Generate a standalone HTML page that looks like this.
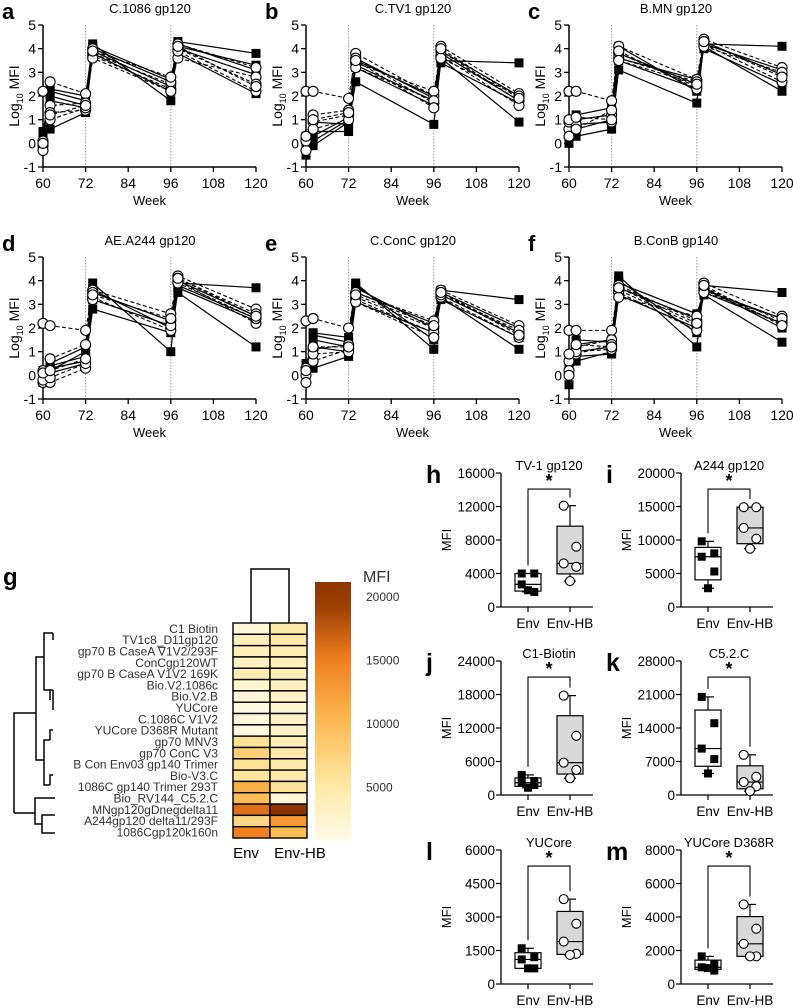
<!DOCTYPE html>
<html><head><meta charset="utf-8"><style>
html,body{margin:0;padding:0;background:#fff;}
svg{display:block;font-family:"Liberation Sans",Arial,sans-serif;}
</style></head><body>
<svg id="fig" width="793" height="1008" viewBox="0 0 793 1008" xmlns="http://www.w3.org/2000/svg"></svg>
<script>
const weeks=[60,62,72,74,96,98,120];
const lineTitles=["C.1086 gp120","C.TV1 gp120","B.MN gp120","AE.A244 gp120","C.ConC gp120","B.ConB gp140"];
const lineLetters=["a","b","c","d","e","f"];
const yTicksLine=[-1,0,1,2,3,4,5];
const xTicksLine=[60,72,84,96,108,120];
// per panel: envSq[animal][timepoint], hbCi[animal][timepoint]
const envA=[[0.4,2.3,2.0,4.2,1.8,4.3,3.8],[0.3,0.6,1.3,3.8,2.2,3.8,2.1],[0.5,2.0,1.6,4.0,2.6,4.1,3.3],[0.4,1.8,1.5,3.9,2.4,4.0,2.9],[0.2,2.2,1.8,4.1,2.7,4.2,3.1]];
const hbA=[[2.2,2.6,2.1,3.7,2.3,4.2,3.2],[0.1,1.6,1.7,3.8,2.5,3.6,2.8],[-0.1,1.3,1.4,4.0,2.6,4.0,2.5],[-0.3,1.0,1.5,3.6,2.2,3.9,2.2],[0.0,1.2,1.6,3.9,2.8,4.1,2.4]];
const envB=[[-0.5,0.9,0.8,2.6,0.8,3.5,3.4],[-0.2,0.5,0.5,3.3,1.8,3.6,0.9],[0.0,0.1,1.0,3.5,2.0,3.9,2.0],[0.3,-0.1,0.9,3.6,1.9,3.8,1.8],[0.1,0.3,1.1,3.2,1.6,3.4,1.7]];
const hbB=[[2.2,2.2,1.9,3.8,2.0,4.1,2.1],[0.2,1.2,1.4,3.6,1.7,3.9,1.8],[-0.3,0.9,1.2,3.4,2.2,3.7,1.6],[0.1,0.6,1.0,3.2,1.8,3.6,2.0],[0.3,1.0,1.3,3.5,1.5,4.0,1.9]];
const envC=[[0.0,0.3,0.6,3.1,1.7,4.2,4.1],[0.2,0.8,0.9,3.5,2.3,4.1,2.2],[0.4,1.0,1.2,3.8,2.5,4.3,2.9],[0.3,0.6,1.0,3.6,2.7,4.0,2.5],[0.1,1.2,1.5,4.1,2.2,4.2,3.1]];
const hbC=[[2.2,2.2,1.8,4.1,2.7,4.4,3.2],[0.6,1.0,1.2,3.8,2.4,4.3,2.9],[0.9,0.8,0.9,3.6,2.6,4.2,2.6],[0.3,0.6,1.4,3.9,2.3,4.1,3.0],[1.0,1.1,1.0,3.5,2.5,4.3,2.8]];
const envD=[[-0.3,0.5,1.2,3.9,1.0,3.9,3.7],[0.0,0.3,0.6,2.8,1.8,3.5,1.2],[0.2,0.1,0.5,3.2,2.1,3.8,2.4],[0.1,0.4,0.8,3.5,2.3,4.0,2.5],[-0.1,0.2,1.0,3.6,2.0,3.7,2.3]];
const hbD=[[2.2,2.1,1.9,3.6,2.6,4.2,2.8],[0.2,0.7,1.3,3.5,2.3,4.1,2.6],[-0.3,-0.3,0.3,3.3,1.9,4.0,2.2],[-0.2,-0.1,0.5,3.2,2.1,3.9,2.4],[0.1,0.2,0.7,3.4,2.4,4.1,2.5]];
const envE=[[0.2,1.8,1.6,3.9,1.1,3.6,3.2],[0.3,0.3,0.8,3.1,1.8,3.3,1.1],[0.1,1.5,1.2,3.5,2.2,3.5,2.0],[0.5,1.2,1.0,3.7,2.0,3.4,1.8],[0.0,1.7,1.4,3.8,1.5,3.2,1.6]];
const hbE=[[2.3,2.4,2.0,3.5,2.3,3.6,2.1],[0.3,1.1,1.3,3.3,2.0,3.5,1.8],[0.0,0.6,1.1,3.2,1.8,3.3,1.6],[-0.3,0.9,1.0,3.1,1.6,3.4,1.9],[0.2,1.2,1.2,3.4,2.1,3.5,1.7]];
const envF=[[-0.4,1.5,1.4,4.2,1.2,3.8,3.5],[0.1,0.6,1.0,3.4,2.0,3.4,1.4],[0.3,1.0,1.2,3.7,2.4,3.6,2.4],[0.2,0.8,0.9,3.9,2.6,3.5,2.2],[0.5,1.3,1.5,4.0,1.8,3.7,2.0]];
const hbF=[[1.9,1.9,1.9,3.8,2.3,3.9,2.5],[0.6,1.2,1.5,3.6,2.1,3.7,2.3],[0.2,0.9,1.3,3.5,1.9,3.6,2.2],[0.0,1.0,1.1,3.3,2.5,3.5,2.4],[0.9,1.3,1.2,3.7,2.2,3.8,2.1]];
const envSets=[envA,envB,envC,envD,envE,envF];
const hbSets=[hbA,hbB,hbC,hbD,hbE,hbF];

// heatmap
const hmLabels=["C1 Biotin","TV1c8_D11gp120","gp70 B CaseA \u22071V2/293F","ConCgp120WT","gp70 B CaseA V1V2 169K","Bio.V2.1086c","Bio.V2.B","YUCore","C.1086C V1V2","YUCore D368R Mutant","gp70 MNV3","gp70 ConC V3","B Con Env03 gp140 Trimer","Bio-V3.C","1086C gp140 Trimer 293T","Bio_RV144_C5.2.C","MNgp120gDnegdelta11","A244gp120 delta11/293F","1086Cgp120k160n"];
const hmEnv=[2000,4000,4000,3500,4500,2500,2000,1500,2000,1500,6000,8000,6000,5500,11000,10000,16000,7000,15000];
const hmHB=[5000,5000,4500,4000,4000,3500,3000,2500,3500,3000,4000,5000,5000,5000,6000,2000,20000,13000,10000];
const cbTicks=[5000,10000,15000,20000];

// box plots
const boxTitles=["TV-1 gp120","A244 gp120","C1-Biotin","C5.2.C","YUCore","YUCore D368R"];
const boxLetters=["h","i","j","k","l","m"];
const boxMax=[16000,20000,24000,28000,6000,8000];
const boxStep=[4000,5000,6000,7000,1500,2000];
const boxEnv=[[4000,4000,2700,1800,2000],[9800,8000,7500,5300,2800],[3600,2500,2200,1800,1300],[20500,15000,9700,7500,4500],[1600,1200,1100,700,700],[1650,1200,1000,800,950]];
const boxHB=[[12100,7200,5200,4800,3100],[14900,14900,11800,10200,8700],[17800,10600,5800,4500,3000],[8400,3800,2700,1800,800],[3800,2700,1900,1350,1300],[4750,3300,2400,1650,1650]];
const groupLabels=["Env","Env-HB"];

const svg=document.getElementById('fig');
const NS="http://www.w3.org/2000/svg";
function mk(tag,attrs,parent,text){const e=document.createElementNS(NS,tag);for(const k in attrs)e.setAttribute(k,attrs[k]);if(text!==undefined)e.textContent=text;(parent||svg).appendChild(e);return e;}

// ---- line panels
for(let p=0;p<6;p++){
  const ox=(p%3)*263, oy=Math.floor(p/3)*232;
  const g=mk('g',{});
  
  
  const x0=ox+43,x1=ox+256,yt=oy+25,yb=oy+167;
  const sx=v=>x0+(v-60)/60*(x1-x0);
  const sy=v=>yb-(v+1)/6*(yb-yt);
  const L=mk('text',{x:ox+2,y:oy+19,'font-size':22,'font-weight':'bold'},g,lineLetters[p]);
  
  const T=mk('text',{x:ox+150,y:oy+13,'font-size':13,'text-anchor':'middle'},g,lineTitles[p]);
  
  [72,96].forEach(w=>{const d=mk('line',{x1:sx(w),x2:sx(w),y1:yt,y2:yb,stroke:'#999','stroke-width':1,'stroke-dasharray':'1.5,1.5'},g);});
  const ya=mk('line',{x1:x0,x2:x0,y1:yt,y2:yb,stroke:'#000','stroke-width':1.5},g);
  const xa=mk('line',{x1:x0,x2:x1,y1:yb,y2:yb,stroke:'#000','stroke-width':1.5},g);
  yTicksLine.forEach(v=>{mk('line',{x1:x0-5,x2:x0,y1:sy(v),y2:sy(v),stroke:'#000','stroke-width':1.3},g);
    const t=mk('text',{x:x0-7,y:sy(v)+5,'font-size':14,'text-anchor':'end'},g,v);});
  xTicksLine.forEach(v=>{mk('line',{x1:sx(v),x2:sx(v),y1:yb,y2:yb+5,stroke:'#000','stroke-width':1.3},g);
    const t=mk('text',{x:sx(v),y:yb+21,'font-size':14,'text-anchor':'middle'},g,v);});
  const wl=mk('text',{x:(x0+x1)/2,y:yb+38,'font-size':13,'text-anchor':'middle'},g,'Week');
  const yl=mk('text',{x:0,y:0,'font-size':14,'text-anchor':'middle',transform:`translate(${ox+19},${(yt+yb)/2}) rotate(-90)`},g);
  
  mk('tspan',{},yl,'Log');mk('tspan',{'font-size':9,dy:4},yl,'10');mk('tspan',{dy:-4},yl,' MFI');
  const env=envSets[p],hb=hbSets[p];
  hb.forEach(s=>{const pl=mk('polyline',{points:s.map((v,i)=>sx(weeks[i])+','+sy(v)).join(' '),fill:'none',stroke:'#000','stroke-width':1.1,'stroke-dasharray':'4,2.5'},g);});
  env.forEach(s=>{const pl=mk('polyline',{points:s.map((v,i)=>sx(weeks[i])+','+sy(v)).join(' '),fill:'none',stroke:'#000','stroke-width':1.2},g);});
  env.forEach(s=>s.forEach((v,i)=>{const r=mk('rect',{x:sx(weeks[i])-4.5,y:sy(v)-4.5,width:9,height:9,fill:'#000'},g);}));
  hb.forEach(s=>s.forEach((v,i)=>{const c=mk('circle',{cx:sx(weeks[i]),cy:sy(v),r:5,fill:'#fff',stroke:'#000','stroke-width':1.1},g);}));
}

// ---- heatmap
const hm=mk('g',{});
const gl=mk('text',{x:3,y:585,'font-size':24,'font-weight':'bold'},hm,'g');
const stops=[[0,[255,255,246]],[5000,[254,234,168]],[10000,[253,188,84]],[15000,[240,128,31]],[20000,[142,52,0]]];
function col(v){v=Math.max(0,Math.min(20000,v));for(let i=1;i<stops.length;i++){if(v<=stops[i][0]){const a=stops[i-1],b=stops[i];const t=(v-a[0])/(b[0]-a[0]);return 'rgb('+a[1].map((c,k)=>Math.round(c+(b[1][k]-c)*t)).join(',')+')';}}return 'rgb(142,52,0)';}
const hx0=233,hxm=270,hx1=307,hy0=623,rh=(838-623)/hmLabels.length;
hmLabels.forEach((lab,i)=>{
  const y=hy0+i*rh;
  const a=mk('rect',{x:hx0,y:y,width:hxm-hx0,height:rh,fill:col(hmEnv[i]),stroke:'#000','stroke-width':1.4},hm);
  const b=mk('rect',{x:hxm,y:y,width:hx1-hxm,height:rh,fill:col(hmHB[i]),stroke:'#000','stroke-width':1.4},hm);
  const t=mk('text',{x:218,y:y+rh-1.5,'font-size':12,'text-anchor':'end',fill:'#333'},hm,lab);
});
const cd=mk('path',{d:`M251 623 V569 H289 V623`,fill:'none',stroke:'#000','stroke-width':1.5},hm);
const rd=mk('path',{d:`M14 813 V713 H36 M36 713 V657 H44 M44 657 V633 H53 M44 657 V690 H50 M36 713 V760 H44 M44 760 V740 H50 M44 760 V785 H50 M14 813 H35 M35 813 V798 H55 M35 813 V824 H42 M42 824 V815 H55 M42 824 V833 H55 M50 700 V690 H53 M50 740 V730 H53 M50 785 V775 H53 M53 633 V640 M53 690 V710`,fill:'none',stroke:'#000','stroke-width':1.5},hm);

['Env','Env-HB'].forEach((l,i)=>{const t=mk('text',{x:i?300:246,y:858,'font-size':15,'text-anchor':'middle'},hm,l);});
const defs=mk('defs',{});const lg=mk('linearGradient',{id:'cb',x1:0,y1:1,x2:0,y2:0},defs);
const cbTop=582,cbBot=840,cy=v=>597+(20000-v)/5000*63.5;
const vTop=20000+(597-cbTop)/63.5*5000,vBot=20000-(cbBot-597)/63.5*5000;
for(let k=0;k<=10;k++){const v=vBot+(vTop-vBot)*k/10;mk('stop',{offset:k/10,'stop-color':col(v)},lg);}
const cb=mk('rect',{x:315,y:cbTop,width:36,height:cbBot-cbTop,fill:'url(#cb)'},hm);
cbTicks.forEach(v=>{const t=mk('text',{x:366,y:cy(v)+4,'font-size':12,fill:'#333'},hm,v);});
const mt=mk('text',{x:363,y:582,'font-size':16,fill:'#333'},hm,'MFI');

// ---- box plots
function quart(arr){const s=[...arr].sort((a,b)=>a-b),n=s.length;const q=p=>{const pos=p*(n+1)-1;const lo=Math.max(0,Math.min(n-1,Math.floor(pos))),hi=Math.max(0,Math.min(n-1,Math.ceil(pos)));return s[lo]+(s[hi]-s[lo])*(pos-Math.floor(pos));};return {min:s[0],max:s[n-1],q1:q(.25),med:q(.5),q3:q(.75)};}
const boxTops=[473,661,850];
for(let p=0;p<6;p++){
  const ax=(p%2)?681:501, top=boxTops[Math.floor(p/2)], bot=top+134;
  const g=mk('g',{});
  const sy=v=>bot-v/boxMax[p]*(bot-top);
  const ex=ax+27,hx=ax+69;
  const L=mk('text',{x:ax-75,y:top+10,'font-size':25,'font-weight':'bold'},g,boxLetters[p]);
  const T=mk('text',{x:ax+48,y:top-3,'font-size':13,'text-anchor':'middle'},g,boxTitles[p]);
  const ya=mk('line',{x1:ax,x2:ax,y1:top,y2:bot,stroke:'#000','stroke-width':1.3},g);
  const xa=mk('line',{x1:ax,x2:ax+92,y1:bot,y2:bot,stroke:'#000','stroke-width':1.3},g);
  for(let v=0;v<=boxMax[p];v+=boxStep[p]){mk('line',{x1:ax-5,x2:ax,y1:sy(v),y2:sy(v),stroke:'#000','stroke-width':1.2},g);
    const t=mk('text',{x:ax-6,y:sy(v)+5,'font-size':13.5,'text-anchor':'end'},g,v);}
  [ex,hx].forEach((x,i)=>{mk('line',{x1:x,x2:x,y1:bot,y2:bot+5,stroke:'#000','stroke-width':1.2},g);
    const t=mk('text',{x:x,y:bot+21,'font-size':13.5,'text-anchor':'middle'},g,groupLabels[i]);});
  const yl=mk('text',{x:0,y:0,'font-size':13,'text-anchor':'middle',transform:`translate(${ax-50},${(top+bot)/2}) rotate(-90)`},g,'MFI');
  [[boxEnv[p],ex,'#fff'],[boxHB[p],hx,'#d9d9d9']].forEach(([d,x,f],gi)=>{
    const q=quart(d);
    mk('line',{x1:x,x2:x,y1:sy(q.max),y2:sy(q.min),stroke:'#000','stroke-width':1.2},g);
    mk('line',{x1:x-6,x2:x+6,y1:sy(q.max),y2:sy(q.max),stroke:'#000','stroke-width':1.2},g);
    mk('line',{x1:x-6,x2:x+6,y1:sy(q.min),y2:sy(q.min),stroke:'#000','stroke-width':1.2},g);
    const b=mk('rect',{x:x-13,y:sy(q.q3),width:26,height:sy(q.q1)-sy(q.q3),fill:f,stroke:'#000','stroke-width':1.2},g);
    mk('line',{x1:x-13,x2:x+13,y1:sy(q.med),y2:sy(q.med),stroke:'#000','stroke-width':1.2},g);
    const offs=[-7,7,-7,7,0];
    d.forEach((v,i)=>{const px=x+offs[i]*0.9;
      if(gi===0){const r=mk('rect',{x:px-4,y:sy(v)-4,width:8,height:8,fill:'#000'},g);}
      else{const c=mk('circle',{cx:px,cy:sy(v),r:4.5,fill:'#fff',stroke:'#000','stroke-width':1.1},g);}});
  });
  const qe=quart(boxEnv[p]),qh=quart(boxHB[p]);
  const brTop=top+(bot-top)*0.12;
  const br=mk('path',{d:`M${ex} ${sy(qe.max)-8} V${brTop} H${hx} V${sy(qh.max)-8}`,fill:'none',stroke:'#000','stroke-width':1.1},g);
  const st=mk('text',{x:(ex+hx)/2,y:brTop-2,'font-size':18,'font-weight':'bold','text-anchor':'middle'},g,'*');
}
</script>
</body></html>
